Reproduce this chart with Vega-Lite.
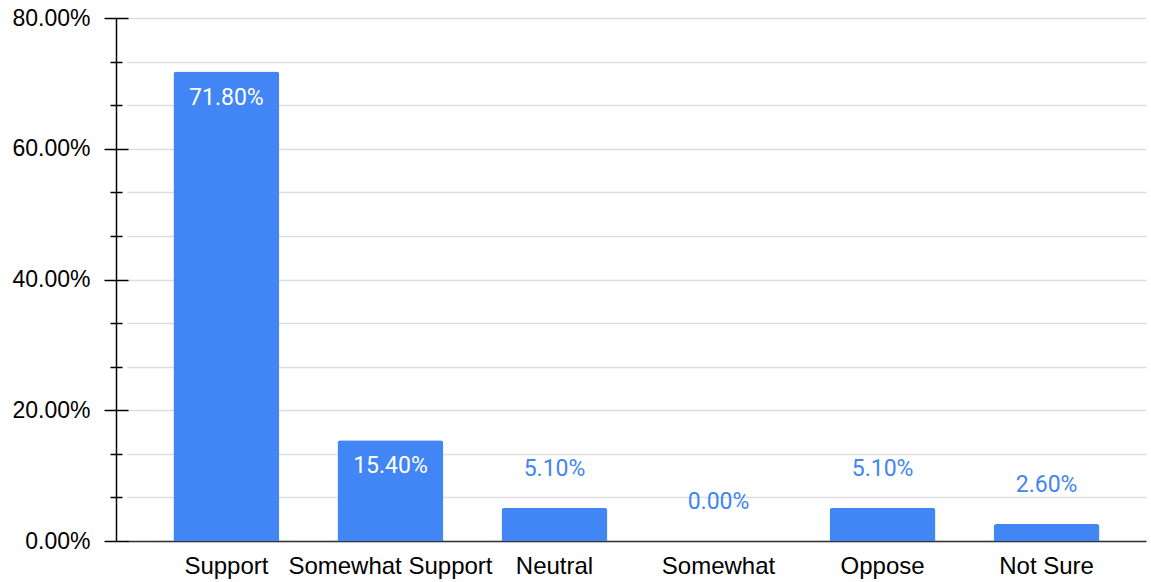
{
  "$schema": "https://vega.github.io/schema/vega-lite/v6.json",
  "width": 1019,
  "height": 523,
  "autosize": {"type": "none"},
  "padding": {"left": 127, "top": 18, "right": 5, "bottom": 41},
  "background": "white",
  "config": {"view": {"stroke": null}},
  "data": {"values": [
    {"category": "Support", "value": 0.718},
    {"category": "Somewhat Support", "value": 0.154},
    {"category": "Neutral", "value": 0.051},
    {"category": "Somewhat", "value": 0.0},
    {"category": "Oppose", "value": 0.051},
    {"category": "Not Sure", "value": 0.026}
  ]},
  "encoding": {
    "x": {
      "field": "category", "type": "nominal", "sort": null,
      "scale": {"paddingInner": 0.354, "paddingOuter": 0.283},
      "axis": {
        "title": null, "labelAngle": 0, "ticks": false, "tickSize": 0,
        "labelFont": "Liberation Sans", "labelFontSize": 24, "labelColor": "#000000",
        "labelPadding": 13, "domainColor": "#333333", "domainWidth": 1.5,
        "labelLimit": 400
      }
    },
    "y": {
      "field": "value", "type": "quantitative",
      "scale": {"domain": [0, 0.8], "nice": false, "zero": true}
    }
  },
  "layer": [
    {
      "mark": {"type": "bar", "color": "#4285f4", "cornerRadiusTopLeft": 3, "cornerRadiusTopRight": 3},
      "encoding": {
        "y": {
          "field": "value", "type": "quantitative",
          "axis": {
            "title": null, "orient": "left", "offset": 11,
            "values": [0, 0.066667, 0.133333, 0.2, 0.266667, 0.333333, 0.4, 0.466667, 0.533333, 0.6, 0.666667, 0.733333, 0.8],
            "format": ".2%",
            "labelExpr": "abs(datum.value*5 - round(datum.value*5)) < 0.01 ? datum.label : ''",
            "labelFont": "Liberation Sans", "labelFontSize": 23, "labelColor": "#000000",
            "labelPadding": 14,
            "tickSize": {"condition": {"test": "abs(datum.value*5 - round(datum.value*5)) < 0.01", "value": 12}, "value": 6},
            "tickColor": "#000000", "tickWidth": 1.5,
            "domainColor": "#000000", "domainWidth": 1.5,
            "grid": true, "gridColor": "#dddddd", "gridWidth": 1.5
          }
        }
      }
    },
    {
      "transform": [{"filter": "datum.value >= 0.1"}],
      "mark": {"type": "text", "color": "#ffffff", "font": "Roboto", "fontSize": 23, "baseline": "middle", "dy": 26},
      "encoding": {
        "y": {
          "field": "value", "type": "quantitative",
          "axis": {
            "title": null, "orient": "right", "offset": -1030,
            "values": [0, 0.066667, 0.133333, 0.2, 0.266667, 0.333333, 0.4, 0.466667, 0.533333, 0.6, 0.666667, 0.733333, 0.8],
            "labels": false, "domain": false, "grid": false,
            "tickSize": {"condition": {"test": "abs(datum.value*5 - round(datum.value*5)) < 0.01", "value": 12}, "value": 6},
            "tickColor": "#000000", "tickWidth": 1.5
          }
        },
        "text": {"field": "value", "type": "quantitative", "format": ".2%"}
      }
    },
    {
      "transform": [{"filter": "datum.value < 0.1"}],
      "mark": {"type": "text", "color": "#4285f4", "font": "Roboto", "fontSize": 23, "baseline": "middle", "dy": -39},
      "encoding": {
        "y": {"field": "value", "type": "quantitative", "axis": null},
        "text": {"field": "value", "type": "quantitative", "format": ".2%"}
      }
    }
  ],
  "resolve": {"axis": {"y": "independent"}}
}
